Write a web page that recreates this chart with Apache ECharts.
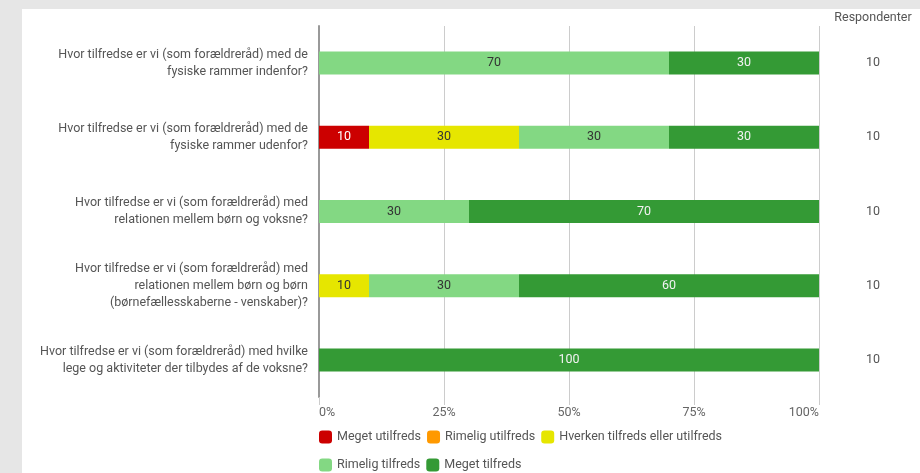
<!DOCTYPE html>
<html>
<head>
<meta charset="UTF-8">
<title>Tilfredshed forældreråd</title>
<script src="https://cdn.jsdelivr.net/npm/echarts@6/dist/echarts.min.js"></script>
<style>
  html, body { margin:0; padding:0; }
  .wrap { position:relative; width:920px; height:473px; background:#e6e6e6; overflow:hidden; }
  #chart { position:absolute; left:22px; top:9px; width:898px; height:464px; background:#fff; }
</style>
</head>
<body>
<div class="wrap">
  <div id="chart"></div>
</div>
<script type="text/javascript">

  // spoergsmaal (kategorier)
  var categories = [
    'Hvor tilfredse er vi (som forældreråd) med de\nfysiske rammer indenfor?',
    'Hvor tilfredse er vi (som forældreråd) med de\nfysiske rammer udenfor?',
    'Hvor tilfredse er vi (som forældreråd) med\nrelationen mellem børn og voksne?',
    'Hvor tilfredse er vi (som forældreråd) med\nrelationen mellem børn og børn\n(børnefællesskaberne - venskaber)?',
    'Hvor tilfredse er vi (som forældreråd) med hvilke\nlege og aktiviteter der tilbydes af de voksne?'
  ];

  var seriesNames = ['Meget utilfreds', 'Rimelig utilfreds', 'Hverken tilfreds eller utilfreds', 'Rimelig tilfreds', 'Meget tilfreds'];

  var megetUtilfreds   = [0, 10, 0, 0, 0];
  var rimeligUtilfreds = [0, 0, 0, 0, 0];
  var hverken          = [0, 30, 0, 10, 0];
  var rimeligTilfreds  = [70, 30, 30, 30, 0];
  var megetTilfreds    = [30, 30, 70, 60, 100];

  var respondenter = [10, 10, 10, 10, 10];
  var xTicks = [0, 25, 50, 75, 100];

  var colors = ['#cc0000', '#ff9900', '#e6e600', '#83d883', '#349a35'];
  var labelColors = ['#ffffff', '#333333', '#333333', '#333333', '#f2f2f2'];
  var values = [megetUtilfreds, rimeligUtilfreds, hverken, rimeligTilfreds, megetTilfreds];

  var myChart = echarts.init(document.getElementById('chart'));

  var series = [];
  for (var i = 0; i < seriesNames.length; i++) {
    series.push({
      name: seriesNames[i],
      type: 'bar',
      stack: 'total',
      barWidth: 23,
      itemStyle: { color: colors[i] },
      label: {
        show: true,
        position: 'inside',
        color: labelColors[i],
        fontFamily: 'Roboto',
        fontSize: 12.5,
        formatter: function (p) { return p.value ? p.value : ''; }
      },
      data: values[i]
    });
  }

  var option = {
    animation: false,
    textStyle: { fontFamily: 'Roboto' },
    color: colors,
    legend: {
      left: 297,
      top: 417,
      width: 420,
      padding: 0,
      itemWidth: 13,
      itemHeight: 13,
      itemGap: 6,
      icon: 'roundRect',
      textStyle: { color: '#555', fontSize: 12.5, lineHeight: 22, fontFamily: 'Roboto' },
      data: seriesNames
    },
    grid: { left: 297, right: 101, top: 17, bottom: 76, containLabel: false },
    xAxis: {
      type: 'value',
      min: xTicks[0],
      max: xTicks[xTicks.length - 1],
      interval: 25,
      axisLine: { show: false },
      axisTick: { show: true, length: 8, lineStyle: { color: '#ccc' } },
      splitLine: { lineStyle: { color: '#ccc' } },
      axisLabel: {
        color: '#666', fontSize: 12.5, margin: 9, formatter: '{value}%',
        alignMinLabel: 'left', alignMaxLabel: 'right'
      }
    },
    yAxis: [{
      type: 'category',
      inverse: true,
      data: categories,
      axisLine: { show: true, lineStyle: { color: '#999', width: 2 } },
      axisTick: { show: false },
      axisLabel: { color: '#555', fontSize: 12.5, lineHeight: 17, margin: 11, align: 'right' }
    }, {
      type: 'category',
      inverse: true,
      position: 'right',
      data: categories,
      name: 'Respondenter',
      nameLocation: 'start',
      nameGap: 2,
      nameTextStyle: { color: '#555', fontSize: 12.5, align: 'center', padding: [0, 0, 0, 108] },
      axisLine: { show: false },
      axisTick: { show: false },
      axisLabel: {
        color: '#555', fontSize: 12.5, margin: 54, align: 'center',
        formatter: function (v, idx) { return respondenter[idx]; }
      }
    }],
    series: series
  };

  myChart.setOption(option);
</script>
</body>
</html>
